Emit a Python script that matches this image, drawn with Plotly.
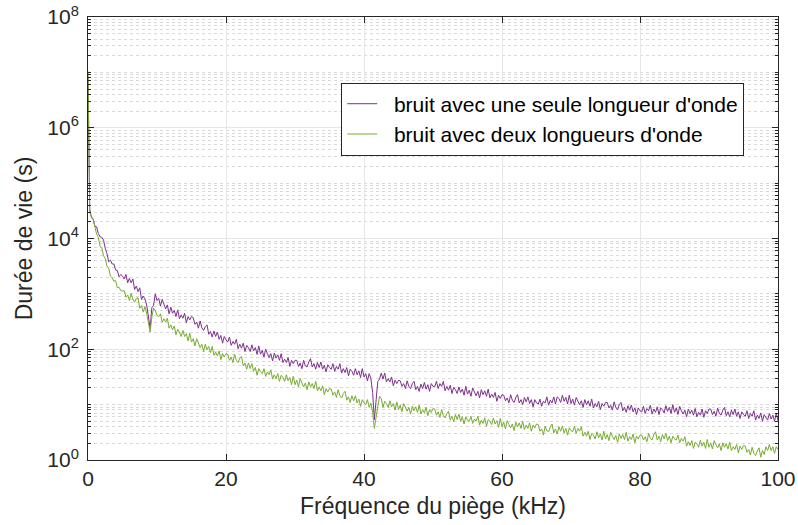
import plotly.graph_objects as go

# Fréquence du piège (kHz): two points near 0, then one reading every 0.25 kHz
freq_start = [0.0, 0.1]
freq_grid = [0.25 * i for i in range(1, 401)]
freq_khz = freq_start + freq_grid

# log10 of the lifetime (s), one row per 5 kHz
log_mono_start = [6.93, 5.30]
log_mono = [
    4.53, 4.38, 4.34, 4.22, 4.21, 4.09, 4.03, 4.02, 3.97, 3.82, 3.73, 3.58, 3.61, 3.54, 3.54, 3.43, 3.42, 3.31, 3.35, 3.32,
    3.27, 3.35, 3.20, 3.28, 3.20, 3.27, 3.08, 3.14, 3.04, 3.11, 2.90, 2.96, 2.91, 2.80, 2.62, 2.38, 2.75, 2.79, 3.00, 2.88,
    2.92, 2.78, 2.90, 2.81, 2.73, 2.80, 2.64, 2.76, 2.65, 2.70, 2.59, 2.71, 2.55, 2.62, 2.56, 2.65, 2.48, 2.59, 2.53, 2.59,
    2.57, 2.45, 2.49, 2.38, 2.51, 2.39, 2.34, 2.41, 2.44, 2.27, 2.32, 2.22, 2.33, 2.23, 2.31, 2.18, 2.25, 2.11, 2.23, 2.17,
    2.13, 2.22, 2.07, 2.14, 2.09, 2.18, 2.01, 2.09, 2.02, 2.11, 1.96, 2.07, 2.03, 1.96, 2.08, 1.97, 2.03, 1.91, 2.06, 1.91,
    1.98, 1.86, 2.00, 1.92, 1.85, 1.92, 1.79, 1.93, 1.84, 1.90, 1.80, 1.92, 1.76, 1.82, 1.76, 1.85, 1.69, 1.80, 1.74, 1.80,
    1.80, 1.69, 1.75, 1.65, 1.80, 1.70, 1.68, 1.77, 1.83, 1.68, 1.74, 1.64, 1.76, 1.67, 1.77, 1.64, 1.71, 1.59, 1.72, 1.67,
    1.64, 1.74, 1.60, 1.69, 1.64, 1.74, 1.57, 1.65, 1.58, 1.67, 1.52, 1.64, 1.60, 1.53, 1.65, 1.54, 1.61, 1.49, 1.65, 1.50,
    1.56, 1.43, 1.56, 1.47, 1.22, 0.73, 1.12, 1.42, 1.46, 1.57, 1.46, 1.57, 1.41, 1.47, 1.41, 1.50, 1.34, 1.44, 1.38, 1.44,
    1.43, 1.33, 1.38, 1.29, 1.43, 1.33, 1.29, 1.38, 1.42, 1.27, 1.33, 1.24, 1.37, 1.29, 1.40, 1.28, 1.36, 1.24, 1.38, 1.33,
    1.32, 1.42, 1.29, 1.38, 1.33, 1.42, 1.25, 1.33, 1.26, 1.35, 1.20, 1.31, 1.27, 1.20, 1.32, 1.22, 1.28, 1.17, 1.33, 1.19,
    1.26, 1.15, 1.30, 1.23, 1.16, 1.24, 1.12, 1.27, 1.18, 1.25, 1.15, 1.28, 1.12, 1.19, 1.13, 1.22, 1.06, 1.17, 1.11, 1.18,
    1.17, 1.07, 1.12, 1.03, 1.18, 1.08, 1.04, 1.13, 1.18, 1.03, 1.09, 1.00, 1.13, 1.05, 1.14, 1.02, 1.09, 0.96, 1.09, 1.03,
    1.01, 1.10, 0.97, 1.06, 1.03, 1.14, 0.99, 1.08, 1.03, 1.14, 1.01, 1.14, 1.11, 1.04, 1.17, 1.06, 1.13, 1.01, 1.17, 1.02,
    1.10, 0.99, 1.13, 1.06, 1.00, 1.07, 0.95, 1.09, 1.00, 1.07, 0.97, 1.10, 0.94, 1.02, 0.96, 1.06, 0.91, 1.02, 0.97, 1.04,
    1.04, 0.94, 0.99, 0.90, 1.05, 0.95, 0.91, 1.00, 1.04, 0.89, 0.95, 0.86, 0.98, 0.90, 0.99, 0.87, 0.94, 0.82, 0.94, 0.89,
    0.87, 0.97, 0.84, 0.93, 0.89, 0.99, 0.83, 0.92, 0.86, 0.96, 0.82, 0.94, 0.91, 0.85, 0.98, 0.88, 0.95, 0.84, 1.00, 0.86,
    0.94, 0.82, 0.97, 0.89, 0.83, 0.90, 0.78, 0.92, 0.84, 0.90, 0.81, 0.93, 0.78, 0.86, 0.81, 0.92, 0.77, 0.89, 0.84, 0.92,
    0.92, 0.82, 0.88, 0.79, 0.94, 0.84, 0.81, 0.90, 0.95, 0.80, 0.87, 0.78, 0.90, 0.82, 0.92, 0.79, 0.87, 0.75, 0.87, 0.82,
    0.79, 0.89, 0.75, 0.84, 0.79, 0.89, 0.72, 0.81, 0.75, 0.85, 0.70, 0.82, 0.78, 0.72, 0.84, 0.74, 0.81, 0.70, 0.85, 0.71,
]

log_deux_start = [7.02, 5.50]
log_deux = [
    4.47, 4.39, 4.36, 4.21, 4.08, 4.02, 3.86, 3.83, 3.69, 3.64, 3.50, 3.47, 3.32, 3.29, 3.23, 3.24, 3.11, 3.12, 3.06, 3.05,
    3.06, 2.94, 2.98, 2.88, 3.01, 2.90, 2.85, 2.92, 2.93, 2.74, 2.79, 2.67, 2.77, 2.65, 2.48, 2.31, 2.58, 2.74, 2.70, 2.61,
    2.59, 2.64, 2.49, 2.55, 2.49, 2.56, 2.38, 2.44, 2.35, 2.42, 2.26, 2.36, 2.31, 2.23, 2.34, 2.23, 2.28, 2.15, 2.29, 2.13,
    2.19, 2.06, 2.19, 2.11, 2.03, 2.09, 1.96, 2.09, 1.99, 2.05, 1.94, 2.05, 1.89, 1.95, 1.88, 1.97, 1.81, 1.92, 1.86, 1.92,
    1.91, 1.80, 1.86, 1.76, 1.91, 1.80, 1.76, 1.84, 1.87, 1.70, 1.75, 1.64, 1.75, 1.65, 1.74, 1.60, 1.67, 1.53, 1.65, 1.59,
    1.56, 1.65, 1.51, 1.59, 1.54, 1.63, 1.46, 1.54, 1.47, 1.56, 1.42, 1.53, 1.49, 1.42, 1.54, 1.43, 1.49, 1.36, 1.51, 1.36,
    1.44, 1.32, 1.47, 1.39, 1.32, 1.39, 1.27, 1.41, 1.32, 1.38, 1.29, 1.42, 1.25, 1.32, 1.25, 1.34, 1.18, 1.29, 1.23, 1.29,
    1.28, 1.17, 1.23, 1.13, 1.27, 1.16, 1.12, 1.20, 1.24, 1.08, 1.14, 1.04, 1.16, 1.07, 1.16, 1.03, 1.10, 0.97, 1.09, 1.03,
    1.00, 1.09, 0.95, 1.03, 0.86, 0.57, 0.82, 0.97, 1.15, 1.11, 0.95, 1.06, 1.02, 0.95, 1.07, 0.96, 1.02, 0.90, 1.05, 0.91,
    0.99, 0.87, 1.02, 0.94, 0.88, 0.95, 0.83, 0.97, 0.89, 0.96, 0.86, 0.99, 0.83, 0.91, 0.85, 0.95, 0.80, 0.91, 0.86, 0.93,
    0.92, 0.81, 0.87, 0.77, 0.91, 0.80, 0.76, 0.84, 0.88, 0.72, 0.79, 0.69, 0.82, 0.73, 0.83, 0.70, 0.78, 0.65, 0.78, 0.72,
    0.70, 0.79, 0.66, 0.74, 0.70, 0.79, 0.63, 0.72, 0.66, 0.76, 0.61, 0.73, 0.70, 0.64, 0.76, 0.65, 0.71, 0.59, 0.75, 0.60,
    0.68, 0.56, 0.71, 0.64, 0.58, 0.65, 0.53, 0.68, 0.60, 0.67, 0.57, 0.70, 0.55, 0.63, 0.57, 0.67, 0.52, 0.63, 0.58, 0.65,
    0.64, 0.52, 0.56, 0.45, 0.61, 0.53, 0.51, 0.60, 0.65, 0.49, 0.56, 0.47, 0.60, 0.52, 0.61, 0.49, 0.57, 0.45, 0.58, 0.53,
    0.51, 0.61, 0.48, 0.57, 0.52, 0.60, 0.43, 0.50, 0.43, 0.52, 0.37, 0.48, 0.45, 0.38, 0.51, 0.40, 0.47, 0.36, 0.52, 0.38,
    0.46, 0.35, 0.50, 0.43, 0.37, 0.44, 0.32, 0.47, 0.39, 0.46, 0.37, 0.50, 0.34, 0.42, 0.37, 0.47, 0.31, 0.43, 0.38, 0.45,
    0.45, 0.36, 0.42, 0.33, 0.48, 0.39, 0.36, 0.46, 0.51, 0.36, 0.43, 0.33, 0.46, 0.38, 0.48, 0.35, 0.43, 0.31, 0.43, 0.38,
    0.36, 0.45, 0.31, 0.39, 0.34, 0.42, 0.25, 0.33, 0.26, 0.35, 0.21, 0.32, 0.29, 0.23, 0.36, 0.25, 0.32, 0.21, 0.37, 0.23,
    0.31, 0.20, 0.35, 0.28, 0.22, 0.29, 0.17, 0.31, 0.23, 0.29, 0.20, 0.32, 0.17, 0.24, 0.19, 0.28, 0.13, 0.25, 0.19, 0.26,
    0.25, 0.14, 0.19, 0.09, 0.23, 0.12, 0.08, 0.16, 0.22, 0.05, 0.17, 0.10, 0.24, 0.17, 0.28, 0.17, 0.24, 0.12, 0.24, 0.19,
]

series_names = ["bruit avec une seule longueur d'onde", "bruit avec deux longueurs d'onde"]
x_ticks = [0, 20, 40, 60, 80, 100]
y_ticks = [1, 1e2, 1e4, 1e6, 1e8]
y_ticktext = ["10<sup>0</sup>", "10<sup>2</sup>", "10<sup>4</sup>", "10<sup>6</sup>", "10<sup>8</sup>"]

duree_mono = [10 ** v for v in log_mono_start + log_mono]
duree_deux = [10 ** v for v in log_deux_start + log_deux]

minor_vals = [m * 10 ** k for k in range(0, 8) for m in range(1, 10) if not (m == 1 and k % 2 == 0)]

FONT = "Liberation Sans, Arial, Helvetica, sans-serif"
AX = "#262626"
PAD = "\u00a0\u00a0"  # small gap between legend line sample and its text

fig = go.Figure()
fig.add_trace(go.Scatter(x=freq_khz, y=duree_mono, mode="lines", name=PAD + series_names[0],
                         line=dict(color="#7E2F8E", width=1)))
fig.add_trace(go.Scatter(x=freq_khz, y=duree_deux, mode="lines", name=PAD + series_names[1],
                         line=dict(color="#77AC30", width=1)))

fig.update_layout(
    width=798, height=525,
    margin=dict(l=88, r=20, t=17, b=65),
    paper_bgcolor="white", plot_bgcolor="white",
    font=dict(family=FONT, color=AX, size=21),
    showlegend=True,
    legend=dict(x=0.367, y=0.852, xanchor="left", yanchor="top",
                bgcolor="white", bordercolor=AX, borderwidth=1,
                font=dict(size=21, color="black"), tracegroupgap=0),
)
fig.update_xaxes(
    range=[0, 100], tickvals=x_ticks, ticks="inside", ticklen=6, tickcolor=AX,
    showline=True, linecolor=AX, linewidth=1, mirror="ticks", automargin=False,
    showgrid=True, gridcolor="#e6e6e6", gridwidth=1, zeroline=False,
    tickfont=dict(size=21, color=AX),
    title=dict(text="Fréquence du piège (kHz)", font=dict(size=23, color=AX), standoff=8),
)
fig.update_yaxes(
    type="log", range=[0, 8], tickvals=y_ticks, ticktext=y_ticktext,
    ticks="inside", ticklen=6, tickcolor=AX, ticklabelstandoff=4,
    showline=True, linecolor=AX, linewidth=1, mirror="ticks", automargin=False,
    showgrid=True, gridcolor="#e6e6e6", gridwidth=1, zeroline=False,
    tickfont=dict(size=21, color=AX),
    minor=dict(tickvals=minor_vals, ticks="inside", ticklen=3, tickcolor=AX,
               showgrid=True, gridcolor="#d9d9d9", griddash="dot", gridwidth=1),
    title=dict(text="Durée de vie (s)", font=dict(size=23, color=AX), standoff=8),
)

fig.write_html("out.html", config={"displayModeBar": False},
               post_script="document.body.style.margin='0px';")
